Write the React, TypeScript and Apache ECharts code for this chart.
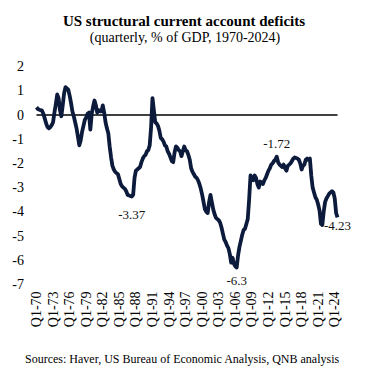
import React, { useEffect, useRef } from "react";
import * as echarts from "echarts";

const firstYear = 1970;
const quarterCount = 219;

const deficitValues = [
  0.32, 0.25, 0.22, 0.2, 0.18, 0.05, -0.15, -0.35, -0.5, -0.55,
  -0.5, -0.42, -0.3, 0.1, 0.45, 0.85, 0.7, 0.2, -0.05, 0.4,
  0.9, 1.15, 1.1, 1.05, 0.8, 0.5, 0.15, -0.05, -0.3, -0.55,
  -0.9, -1.25, -1.05, -0.7, -0.45, -0.2, -0.1, 0.05, 0.1, -0.6,
  0.05, 0.35, 0.6, 0.4, 0.1, 0.2, 0.15, 0.15, 0.4, 0.1,
  -0.3, -0.55, -0.75, -1.3, -1.75, -2.1, -2.25, -2.35, -2.4, -2.45,
  -2.65, -2.85, -2.95, -3.0, -3.05, -3.15, -3.3, -3.32, -3.35, -3.37,
  -3.3, -2.6, -2.3, -2.25, -2.2, -2.15, -1.95, -1.8, -1.7, -1.65,
  -1.5, -1.45, -1.25, -0.5, 0.7, 0.2, -0.3, -0.35, -0.45, -0.65,
  -0.95, -1.0, -1.1, -1.25, -1.3, -1.5, -1.6, -1.75, -1.9, -1.95,
  -1.55, -1.3, -1.35, -1.45, -1.5, -1.7, -1.5, -1.3, -1.45, -1.5,
  -1.65, -1.85, -2.2, -2.35, -2.45, -2.55, -2.6, -2.7, -2.85, -3.05,
  -3.3, -3.6, -3.9, -4.0, -4.05, -3.6, -3.3, -3.6, -3.9, -4.1,
  -4.25, -4.3, -4.35, -4.45, -4.65, -4.9, -5.15, -5.25, -5.4, -5.5,
  -5.75, -6.1, -5.9, -6.15, -6.25, -6.3, -5.8, -5.45, -5.2, -4.95,
  -4.75, -4.7, -4.5, -4.3, -3.5, -2.5, -2.6, -2.7, -2.5, -2.6,
  -2.85, -3.0, -2.75, -2.8, -2.85, -2.7, -2.6, -2.45, -2.3, -2.2,
  -2.05, -2.0, -1.9, -1.85, -1.72, -1.95, -2.05, -2.1, -2.15, -2.05,
  -2.2, -2.3, -2.1, -2.05, -2.0, -1.9, -1.8, -1.75, -1.78, -1.8,
  -1.85, -2.0, -2.25, -2.1, -2.05, -1.85, -1.8, -1.85, -1.8, -2.5,
  -3.0, -3.2, -3.4, -3.5, -3.7, -3.95, -4.5, -4.55, -4.0, -3.6,
  -3.45, -3.35, -3.25, -3.2, -3.15, -3.2, -3.45, -4.05, -4.23,
];

// indices of the annotated points (Q2-87 min, Q2-06 min, Q3-13 high, last)
const annotatedIndices = [69, 145, 174, 218];

const titleText = "US structural current account deficits";
const subtitleText = "(quarterly, % of GDP, 1970-2024)";
const sourceText = "Sources: Haver, US Bureau of Economic Analysis, QNB analysis";

const categories: string[] = [];
for (let i = 0; i < quarterCount; i++) {
  const year = firstYear + Math.floor(i / 4);
  const q = (i % 4) + 1;
  categories.push(`Q${q}-${String(year % 100).padStart(2, "0")}`);
}

const FONT = "Liberation Serif";

const labelStyles: Record<number, { position: string; distance: number }> = {
  69: { position: "bottom", distance: 11 },
  145: { position: "bottom", distance: 6 },
  174: { position: "top", distance: 6 },
  218: { position: "bottom", distance: 1 },
};

export default function App() {
  const ref = useRef<HTMLDivElement>(null);
  useEffect(() => {
    document.body.style.margin = "0";
    if (!ref.current) return;
    const chart = echarts.init(ref.current, null, { renderer: "svg" });
    const markData = annotatedIndices.map((i) => {
      const v = deficitValues[i];
      const s = labelStyles[i];
      return {
        coord: [i, v],
        value: v,
        label: {
          show: true,
          position: s.position,
          distance: s.distance,
          formatter: String(v),
          fontFamily: FONT,
          fontSize: 13,
          color: "#111",
        },
      };
    });
    chart.setOption({
      animation: false,
      backgroundColor: "#fff",
      title: [
        {
          text: titleText,
          left: 179,
          top: 8,
          textAlign: "center",
          textStyle: { fontFamily: FONT, fontSize: 15, fontWeight: "bold", color: "#000" },
        },
        {
          text: subtitleText,
          left: 180,
          top: 25,
          textAlign: "center",
          textStyle: { fontFamily: FONT, fontSize: 14, fontWeight: "normal", color: "#000" },
        },
        {
          text: sourceText,
          left: 20,
          top: 348,
          textStyle: { fontFamily: FONT, fontSize: 12, fontWeight: "normal", color: "#000" },
        },
      ],
      grid: { left: 36.5, right: 27.5, top: 66.6, bottom: 86.6, containLabel: false },
      xAxis: {
        type: "category",
        data: categories,
        boundaryGap: false,
        axisLine: { show: false },
        axisTick: { show: false },
        axisLabel: {
          interval: 11,
          rotate: 90,
          margin: 7,
          fontFamily: FONT,
          fontSize: 14,
          color: "#000",
        },
        splitLine: { show: false },
      },
      yAxis: {
        type: "value",
        min: -7,
        max: 2,
        interval: 1,
        axisLine: { show: false },
        axisTick: { show: false },
        splitLine: { show: false },
        axisLabel: { margin: 12.5, fontFamily: FONT, fontSize: 14, color: "#000" },
      },
      series: [
        {
          type: "line",
          data: deficitValues,
          showSymbol: false,
          symbol: "none",
          lineStyle: { color: "#0c1a3c", width: 3.8, join: "round" },
          z: 3,
          markLine: {
            silent: true,
            symbol: "none",
            label: { show: false },
            lineStyle: { color: "#000", width: 1.5, type: "solid" },
            data: [{ yAxis: 0 }],
            z: 2,
          },
          markPoint: {
            silent: true,
            symbol: "circle",
            symbolSize: 1,
            itemStyle: { color: "rgba(0,0,0,0)" },
            data: markData,
            z: 4,
          },
        },
      ],
    });
    return () => chart.dispose();
  }, []);
  return <div ref={ref} style={{ width: 365, height: 371 }} />;
}
